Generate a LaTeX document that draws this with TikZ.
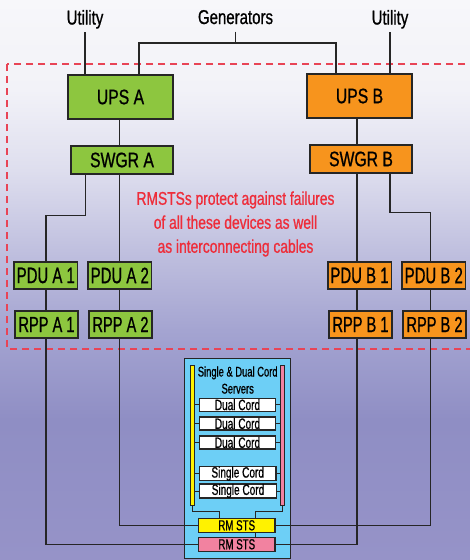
\documentclass[tikz,border=0pt]{standalone}
\usepackage{fontspec}
\setmainfont{Liberation Sans}[FakeStretch=0.75,FakeBold=0.8]
\newfontfamily\condfont{Liberation Sans}[FakeStretch=0.67,FakeBold=0.8]
\definecolor{upsgreen}{HTML}{8DC63F}
\definecolor{upsorange}{HTML}{F7941D}
\definecolor{srvblue}{HTML}{6DCFF6}
\definecolor{baryellow}{HTML}{FFF200}
\definecolor{barpink}{HTML}{F282A0}
\definecolor{notered}{HTML}{EE2D3A}
\definecolor{dashred}{HTML}{E84456}
\definecolor{bgA}{RGB}{247,247,250}
\definecolor{bgB}{RGB}{242,242,248}
\definecolor{bgC}{RGB}{222,222,238}
\definecolor{bgD}{RGB}{192,192,223}
\definecolor{bgE}{RGB}{164,164,209}
\definecolor{bgF}{RGB}{143,142,196}
\definecolor{bgG}{RGB}{150,147,200}
\pgfdeclareverticalshading{bgshade}{100bp}{color(0bp)=(bgG); color(25bp)=(bgG); color(37.5bp)=(bgF); color(45.5bp)=(bgE); color(52.7bp)=(bgD); color(59.8bp)=(bgC); color(67bp)=(bgB); color(75bp)=(bgA); color(100bp)=(bgA)}
\begin{document}
\begin{tikzpicture}[x=1pt,y=-1pt,
  lbl/.style={font=\fontsize{20}{24}\selectfont, text depth=4pt, inner sep=3.5pt, anchor=base},
  box/.style={draw=black!85, line width=1.5pt, inner sep=0pt, anchor=center},
  gbox/.style={box, fill=upsgreen},
  obox/.style={box, fill=upsorange},
  bigbox/.style={minimum width=105pt, minimum height=44pt, font=\fontsize{21}{24}\selectfont},
  swbox/.style={minimum width=102pt, minimum height=28pt, font=\fontsize{21}{24}\selectfont},
  pdubox/.style={minimum width=63.5pt, minimum height=27pt, font=\condfont\fontsize{22.3}{24}\selectfont},
  rppbox/.style={minimum width=63pt, minimum height=27pt, font=\condfont\fontsize{21.8}{24}\selectfont},
  wire/.style={draw=black!85, line width=1.4pt},
  iwire/.style={draw=black!85, line width=1pt},
  cordbox/.style={draw=black!85, line width=1.2pt, fill=white, inner sep=0pt, minimum width=76.4pt, minimum height=13pt, font=\condfont\fontsize{15}{15}\selectfont},
  stsbox/.style={draw=black!85, line width=1.2pt, inner sep=0pt, minimum width=76.5pt, minimum height=14pt, font=\condfont\fontsize{14.5}{15}\selectfont},
  vbar/.style={draw=black!85, line width=0.8pt, inner sep=0pt, minimum width=4pt, minimum height=140pt}
]
\useasboundingbox (0,0) rectangle (470,560);
\shade[shading=bgshade] (0,0) rectangle (470,560);

% dashed region
\draw[dashred, line width=1.2pt, dash pattern=on 7pt off 5pt] (7,64) rectangle (485,349);

% coordinates of columns and junctions
\coordinate (cA1) at (45.8,0);
\coordinate (cA2) at (119.3,0);
\coordinate (cB1) at (357,0);
\coordinate (cB2) at (430.5,0);
\coordinate (gA) at (139,43);
\coordinate (gB) at (336,43);
\coordinate (jA) at (85.5,215.7);
\coordinate (jB) at (390,212.3);

% server enclosure
\node[draw=black!85, line width=1.5pt, fill=srvblue, inner sep=0pt, minimum width=106pt, minimum height=200pt] (srv) at (237.7,458.7) {};
\node[vbar, fill=baryellow] (ybar) at (192.3,435) {};
\node[vbar, fill=barpink] (pbar) at (282.3,435.7) {};
\node[align=center, inner sep=0pt, font=\condfont\fontsize{14}{17}\selectfont] (srvtitle) at (237.7,380) {Single \& Dual Cord\\Servers};
\node[cordbox] (d1) at (237.5,404.7) {Dual Cord};
\node[cordbox] (d2) at (237.5,423.5) {Dual Cord};
\node[cordbox] (d3) at (237.5,442.5) {Dual Cord};
\node[cordbox] (s1) at (237.7,473.7) {Single Cord};
\node[cordbox] (s2) at (238,491) {Single Cord};
\foreach \b in {d1,d2,d3,s1,s2}{
  \draw[iwire] (\b.west) -- (\b.west -| ybar.east);
  \draw[iwire] (\b.east) -- (\b.east -| pbar.west);
}
\coordinate (yj) at (219.7,511);
\coordinate (pj) at (255.3,511);
\node[stsbox, fill=barpink] (stsP) at (236.8,544.3) {RM STS};
\draw[iwire] (pbar.south) |- (pj) -- (pj |- stsP.north);
\node[stsbox, fill=baryellow] (stsY) at (236.7,525.3) {RM STS};
\draw[iwire] (ybar.south) |- (yj) -- (yj |- stsY.north);

% top labels
\node[lbl] (utilA) at (85,24.5) {Utility};
\node[lbl] (gen) at (235.5,24) {Generators};
\node[lbl] (utilB) at (390,24.5) {Utility};

% equipment boxes
\node[gbox, bigbox] (upsA) at (120.5,97) {UPS A};
\node[obox, bigbox] (upsB) at (359.5,96) {UPS B};
\node[gbox, swbox] (swgrA) at (122,160) {SWGR A};
\node[obox, swbox] (swgrB) at (361,159) {SWGR B};
\node[gbox, pdubox] (pdua1) at (45.8,275.5) {PDU A 1};
\node[gbox, pdubox] (pdua2) at (119.8,275.5) {PDU A 2};
\node[obox, pdubox] (pdub1) at (359.5,275.5) {PDU B 1};
\node[obox, pdubox] (pdub2) at (433.8,275.5) {PDU B 2};
\node[gbox, rppbox] (rppa1) at (46.5,324.5) {RPP A 1};
\node[gbox, rppbox] (rppa2) at (120.5,324.5) {RPP A 2};
\node[obox, rppbox] (rppb1) at (360.5,324.5) {RPP B 1};
\node[obox, rppbox] (rppb2) at (434.5,324.5) {RPP B 2};

% note
\node[align=center, text=notered, inner sep=0pt, font=\fontsize{18.4}{24}\selectfont] (note) at (235.5,224) {RMSTSs protect against failures\\of all these devices as well\\as interconnecting cables};

% wires
\draw[wire] (utilA.south) -- (utilA.south |- upsA.north);
\draw[wire] (utilB.south) -- (utilB.south |- upsB.north);
\draw[wire] (gen.south) -- (gen.south |- gA);
\draw[wire] (upsA.north -| gA) -- (gA) -- (gB) -- (upsB.north -| gB);
\draw[wire] (upsA.south -| cA2) -- (swgrA.north -| cA2);
\draw[wire] (upsB.south -| cB1) -- (swgrB.north -| cB1);
\draw[wire] (swgrA.south -| jA) -- (jA) -| (pdua1.north -| cA1);
\draw[wire] (swgrA.south -| cA2) -- (pdua2.north -| cA2);
\draw[wire] (swgrB.south -| cB1) -- (pdub1.north -| cB1);
\draw[wire] (swgrB.south -| jB) -- (jB) -| (pdub2.north -| cB2);
\draw[wire] (pdua1.south -| cA1) -- (rppa1.north -| cA1);
\draw[wire] (pdua2.south -| cA2) -- (rppa2.north -| cA2);
\draw[wire] (pdub1.south -| cB1) -- (rppb1.north -| cB1);
\draw[wire] (pdub2.south -| cB2) -- (rppb2.north -| cB2);
\draw[wire] (rppa1.south -| cA1) |- (stsP.west);
\draw[wire] (rppa2.south -| cA2) |- (stsY.west);
\draw[wire] (rppb1.south -| cB1) |- (stsP.east);
\draw[wire] (rppb2.south -| cB2) |- (stsY.east);
\end{tikzpicture}
\end{document}
